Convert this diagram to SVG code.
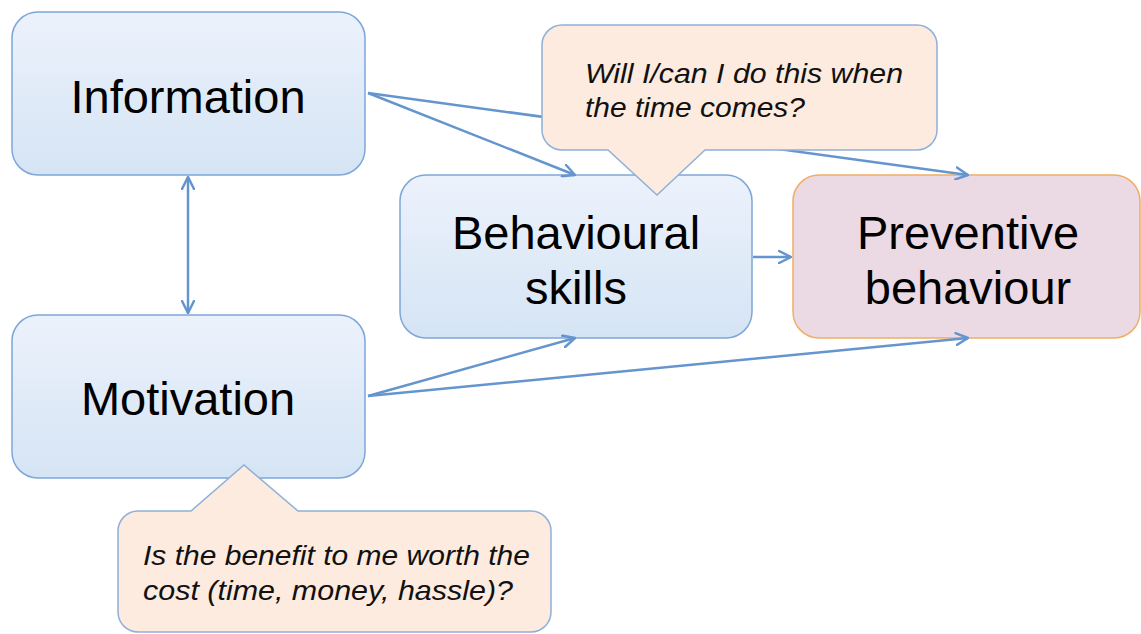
<svg xmlns="http://www.w3.org/2000/svg" width="1141" height="634" viewBox="0 0 1141 634">
  <defs>
    <linearGradient id="blueFill" x1="0" y1="0" x2="0" y2="1">
      <stop offset="0" stop-color="#ECF2FC"/>
      <stop offset="1" stop-color="#D5E4F4"/>
    </linearGradient>
    <marker id="arrow" viewBox="0 0 14 14" refX="13" refY="7" markerWidth="14" markerHeight="14" markerUnits="userSpaceOnUse" orient="auto-start-reverse">
      <path d="M1,1 L13,7 L1,13" fill="none" stroke="#6495CE" stroke-width="2.5" stroke-linecap="round" stroke-linejoin="round"/>
    </marker>
    <style>
      .box { fill: url(#blueFill); stroke: #7EA6D8; stroke-width: 1.5; }
      .outcome { fill: #EBD9E3; stroke: #F0AE66; stroke-width: 1.5; }
      .callout { fill: #FCEBDE; stroke: #8EB0D9; stroke-width: 1.5; }
      .label { font-family: "Liberation Sans", Arial, sans-serif; font-size: 47px; fill: #000; text-anchor: middle; }
      .note { font-family: "Liberation Sans", Arial, sans-serif; font-size: 28px; font-style: italic; fill: #111; }
      .conn { fill: none; stroke: #6495CE; stroke-width: 2.5; marker-end: url(#arrow); }
    </style>
  </defs>
  <rect width="1141" height="634" fill="#FFFFFF"/>

  <g id="information">
    <rect class="box" x="12" y="12" width="353" height="163" rx="26"/>
    <text class="label" x="188" y="113">Information</text>
  </g>
  <g id="motivation">
    <rect class="box" x="12" y="315" width="353" height="163" rx="26"/>
    <text class="label" x="188" y="415">Motivation</text>
  </g>
  <g id="behavioural-skills">
    <rect class="box" x="400" y="175" width="352" height="163" rx="26"/>
    <text class="label" x="576" y="249">Behavioural</text>
    <text class="label" x="576" y="304">skills</text>
  </g>
  <g id="preventive-behaviour">
    <rect class="outcome" x="793" y="175" width="347" height="163" rx="26"/>
    <text class="label" x="968" y="249">Preventive</text>
    <text class="label" x="968" y="304">behaviour</text>
  </g>

  <g id="connectors">
    <path class="conn" d="M368,93 L575,175"/>
    <path class="conn" d="M368,93 L968,175"/>
    <path class="conn" d="M753,257 L791,257"/>
    <path class="conn" d="M368,396 L575,338"/>
    <path class="conn" d="M368,396 L968,338"/>
    <path class="conn" d="M188,177 L188,313" marker-start="url(#arrow)"/>
  </g>

  <g id="callout-skills">
    <path class="callout" d="M562,25 H917 A20,20 0 0 1 937,45 V130 A20,20 0 0 1 917,150 H705 L657,195 L608,150 H562 A20,20 0 0 1 542,130 V45 A20,20 0 0 1 562,25 Z"/>
    <text class="note" x="585" y="83" textLength="318" lengthAdjust="spacingAndGlyphs">Will I/can I do this when</text>
    <text class="note" x="585" y="117" textLength="220" lengthAdjust="spacingAndGlyphs">the time comes?</text>
  </g>

  <g id="callout-motivation">
    <path class="callout" d="M138,511 H191 L244,465 L298,511 H531 A20,20 0 0 1 551,531 V612 A20,20 0 0 1 531,632 H138 A20,20 0 0 1 118,612 V531 A20,20 0 0 1 138,511 Z"/>
    <text class="note" x="143" y="565" textLength="387" lengthAdjust="spacingAndGlyphs">Is the benefit to me worth the</text>
    <text class="note" x="143" y="600" textLength="370" lengthAdjust="spacingAndGlyphs">cost (time, money, hassle)?</text>
  </g>
</svg>
